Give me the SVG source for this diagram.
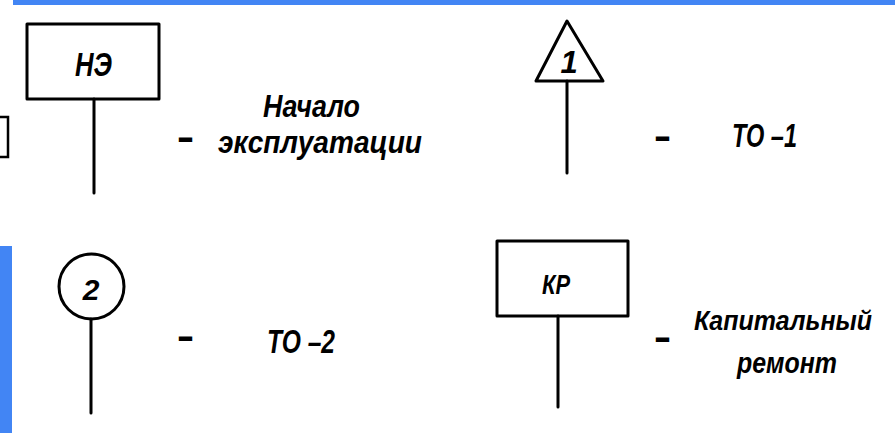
<svg xmlns="http://www.w3.org/2000/svg" width="895" height="433" viewBox="0 0 895 433">
  <style>
    .sym { fill: #fff; stroke: #000; stroke-width: 3; stroke-linejoin: round; }
    .stem { stroke: #000; stroke-width: 3; stroke-linecap: round; fill: none; }
    .t { font-family: "Liberation Sans", "DejaVu Sans", sans-serif; font-style: italic; font-weight: bold; fill: #000; }
    .d { font-family: "Liberation Sans", "DejaVu Sans", sans-serif; font-weight: bold; font-size: 44px; fill: #000; }
    .bar { fill: #4285f4; }
  </style>
  <rect width="895" height="433" fill="#fff"/>
  <rect class="bar" x="13" y="0" width="882" height="5"/>
  <rect class="bar" x="0" y="246" width="12" height="187"/>
  <rect x="-20" y="117" width="28" height="40" fill="none" stroke="#000" stroke-width="2.5"/>

  <g id="node-ne">
    <rect class="sym" x="27" y="24" width="132" height="75"/>
    <line class="stem" x1="94" y1="99" x2="94" y2="193"/>
    <text class="t" x="75" y="76" font-size="33" textLength="37" lengthAdjust="spacingAndGlyphs">НЭ</text>
    <text class="d" x="178" y="152" textLength="15" lengthAdjust="spacingAndGlyphs">–</text>
    <text class="t" x="263" y="117" font-size="32" textLength="97" lengthAdjust="spacingAndGlyphs">Начало</text>
    <text class="t" x="218" y="153" font-size="32" textLength="204" lengthAdjust="spacingAndGlyphs">эксплуатации</text>
  </g>

  <g id="node-to1">
    <polygon class="sym" points="567,21 603,81 536,81"/>
    <line class="stem" x1="567" y1="81" x2="567" y2="173"/>
    <text class="t" x="569" y="73" font-size="31" text-anchor="middle">1</text>
    <text class="d" x="655" y="151" textLength="15" lengthAdjust="spacingAndGlyphs">–</text>
    <text class="t" x="732" y="147" font-size="33" textLength="65" lengthAdjust="spacingAndGlyphs">ТО –1</text>
  </g>

  <g id="node-to2">
    <circle class="sym" cx="91.5" cy="286.5" r="32.5"/>
    <line class="stem" x1="91" y1="319" x2="91" y2="413"/>
    <text class="t" x="91" y="300" font-size="30" text-anchor="middle">2</text>
    <text class="d" x="178" y="351" textLength="15" lengthAdjust="spacingAndGlyphs">–</text>
    <text class="t" x="267" y="353" font-size="34" textLength="68" lengthAdjust="spacingAndGlyphs">ТО –2</text>
  </g>

  <g id="node-kr">
    <rect class="sym" x="497" y="241" width="131" height="75"/>
    <line class="stem" x1="558" y1="316" x2="558" y2="407"/>
    <text class="t" x="542" y="294" font-size="28" textLength="28" lengthAdjust="spacingAndGlyphs">КР</text>
    <text class="d" x="655" y="352" textLength="15" lengthAdjust="spacingAndGlyphs">–</text>
    <text class="t" x="694" y="330" font-size="27" textLength="178" lengthAdjust="spacingAndGlyphs">Капитальный</text>
    <text class="t" x="737" y="373" font-size="29" textLength="100" lengthAdjust="spacingAndGlyphs">ремонт</text>
  </g>
</svg>
